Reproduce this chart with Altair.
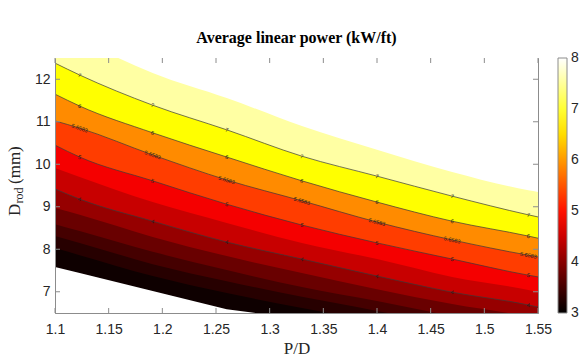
import math
import altair as alt
import pandas as pd

# ---------------- data ----------------
# P/D columns at which the contour boundaries were read
PD = [1.1, 1.123, 1.191, 1.26, 1.33, 1.40, 1.47, 1.541, 1.55]

# labelled contour lines: D_rod (mm) at each P/D column
LINE_7 = [12.38, 12.10, 11.39, 10.81, 10.19, 9.72, 9.25, 8.81, 8.76]
LINE_6 = [11.65, 11.37, 10.74, 10.17, 9.61, 9.11, 8.66, 8.31, 8.26]
LINE_56583 = [11.02, 10.85, 10.22, 9.63, 9.14, 8.64, 8.22, 7.86, 7.82]
LINE_5 = [10.45, 10.17, 9.61, 9.06, 8.57, 8.15, 7.77, 7.39, 7.35]
LINE_4 = [9.42, 9.18, 8.66, 8.17, 7.77, 7.37, 6.99, 6.69, 6.64]
LINE_LEVELS = ["7", "6", "5.6583", "5", "4"]

# unlabelled edges of the filled bands
EDGE_45 = [9.91, 9.70, 9.11, 8.62, 8.15, 7.77, 7.35, 7.04, 6.99]
EDGE_35 = [8.97, 8.81, 8.29, 7.84, 7.44, 7.06, 6.71, 6.41, 6.36]
EDGE_30 = [8.59, 8.43, 7.94, 7.51, 7.11, 6.78, 6.43, 6.12, 6.08]
EDGE_25 = [8.31, 8.15, 7.65, 7.25, 6.88, 6.55, 6.19, 5.89, 5.84]
EDGE_20 = [8.03, 7.86, 7.37, 6.97, 6.62, 6.29, 5.96, 5.65, 5.61]

# value (kW/ft) shown by each filled band, from the top band down
BAND_VALUES = [7.55, 6.75, 5.9, 5.32, 4.8, 4.47, 4.1, 3.77, 3.51, 3.29, 3.1]

# limits of the computed region (blank outside)
TOP_PD = [1.159, 1.191, 1.26, 1.33, 1.40, 1.47, 1.541, 1.55]
TOP_D = [12.5, 12.15, 11.56, 10.90, 10.34, 9.82, 9.39, 9.35]
BOT_PD = [1.1, 1.123, 1.191, 1.26, 1.287]
BOT_D = [7.58, 7.44, 7.02, 6.59, 6.5]

X_DOMAIN = [1.1, 1.55]
Y_DOMAIN = [6.5, 12.5]
X_TICKS = [1.1, 1.15, 1.2, 1.25, 1.3, 1.35, 1.4, 1.45, 1.5, 1.55]
Y_TICKS = [7, 8, 9, 10, 11, 12]
CBAR_DOMAIN = [3, 8]
CBAR_TICKS = [3, 4, 5, 6, 7, 8]
LABEL_COLUMNS = [1, 2, 3, 4, 5, 6, 7]

# ---------------- styling ----------------
W, H = 483, 255
CB_OFFSET, CB_THICK = 20, 9
AXIS = "#8c8c8c"
TXT = "#262626"
SANS = "Liberation Sans"
SERIF = "Liberation Serif"

# ---------------- tables ----------------
LINE_D = [LINE_7, LINE_6, LINE_56583, LINE_5, LINE_4]
band_tops = [[Y_DOMAIN[1]] * len(PD), LINE_7, LINE_6, LINE_56583, LINE_5,
             EDGE_45, LINE_4, EDGE_35, EDGE_30, EDGE_25, EDGE_20]

band_rows = []
for b, (val, top) in enumerate(zip(BAND_VALUES, band_tops)):
    for p, d in zip(PD, top):
        band_rows.append({"band": b, "PD": p, "D": d, "value": val})
bands = pd.DataFrame(band_rows)

line_rows = []
label_rows = []
px_x = W / (X_DOMAIN[1] - X_DOMAIN[0])
px_y = H / (Y_DOMAIN[1] - Y_DOMAIN[0])
for lev, ds in zip(LINE_LEVELS, LINE_D):
    for p, d in zip(PD, ds):
        line_rows.append({"level": lev, "PD": p, "D": d})
    for i in LABEL_COLUMNS:
        dx = (PD[i + 1] - PD[i - 1]) * px_x
        dy = -(ds[i + 1] - ds[i - 1]) * px_y
        ang = math.degrees(math.atan2(dy, dx)) % 360
        label_rows.append({"level": lev, "PD": PD[i], "D": ds[i], "angle": ang})
lines = pd.DataFrame(line_rows)
labels = pd.DataFrame(label_rows)

top_blank = pd.DataFrame({"PD": TOP_PD, "D": TOP_D})
bot_blank = pd.DataFrame({"PD": BOT_PD, "D": BOT_D})
xt = pd.DataFrame({"PD": X_TICKS})
yt = pd.DataFrame({"D": Y_TICKS})
cbt = pd.DataFrame({"kw": CBAR_TICKS})

# ---------------- encodings ----------------
x_enc = alt.X(
    "PD:Q",
    title="P/D",
    scale=alt.Scale(domain=X_DOMAIN, nice=False, zero=False),
    axis=alt.Axis(values=X_TICKS, format=".2~f", tickSize=0, labelPadding=9,
                  labelFontSize=14, labelFont=SANS, labelColor=TXT,
                  labelFlush=False, domainColor=AXIS, grid=False, zindex=1,
                  titleFont=SERIF, titleFontSize=17, titleFontWeight="normal",
                  titleColor=TXT, titlePadding=4),
)
y_enc = alt.Y(
    "D:Q",
    title=None,
    scale=alt.Scale(domain=Y_DOMAIN, nice=False, zero=False),
    axis=alt.Axis(values=Y_TICKS, tickSize=0, labelPadding=5, labelFontSize=14,
                  labelFont=SANS, labelColor=TXT, labelFlush=False,
                  domainColor=AXIS, grid=False, zindex=1),
)
hot = alt.Scale(domain=[3, 4.875, 6.75, 8],
                range=["#000000", "#ff0000", "#ffff00", "#ffffff"],
                interpolate="rgb", clamp=True)
color_enc = alt.Color(
    "value:Q", scale=hot,
    legend=alt.Legend(values=CBAR_TICKS, title=None, orient="right",
                      offset=CB_OFFSET, gradientLength=H,
                      gradientThickness=CB_THICK, gradientStrokeColor=AXIS,
                      gradientStrokeWidth=1, labelExpr="''", padding=0),
)

layers = []
for b in range(len(BAND_VALUES)):
    layers.append(
        alt.Chart(bands).transform_filter(alt.datum.band == b)
        .mark_area(clip=True, interpolate="monotone")
        .encode(x=x_enc, y=y_enc, y2=alt.Y2Datum(Y_DOMAIN[0]), color=color_enc)
    )

layers.append(
    alt.Chart(top_blank).mark_area(clip=True, color="white", interpolate="monotone")
    .encode(x=x_enc, y=y_enc, y2=alt.Y2Datum(Y_DOMAIN[1]))
)
layers.append(
    alt.Chart(bot_blank).mark_area(clip=True, color="white")
    .encode(x=x_enc, y=y_enc, y2=alt.Y2Datum(Y_DOMAIN[0]))
)
layers.append(
    alt.Chart(lines).mark_line(clip=True, interpolate="monotone", color="#3a3a3a",
                               strokeWidth=0.7)
    .encode(x=x_enc, y=y_enc, detail="level:N")
)
layers.append(
    alt.Chart(labels).mark_text(font=SANS, fontSize=5.5, color="#1e1e1e")
    .encode(x=x_enc, y=y_enc, text="level:N", angle=alt.Angle("angle:Q", scale=None))
)

# inward ticks on all four sides
layers.append(alt.Chart(xt).mark_rule(color=AXIS).encode(
    x=x_enc, y=alt.value(H), y2=alt.value(H - 5)))
layers.append(alt.Chart(xt).mark_rule(color=AXIS).encode(
    x=x_enc, y=alt.value(0), y2=alt.value(5)))
layers.append(alt.Chart(yt).mark_rule(color=AXIS).encode(
    y=y_enc, x=alt.value(0), x2=alt.value(5)))
layers.append(alt.Chart(yt).mark_rule(color=AXIS).encode(
    y=y_enc, x=alt.value(W), x2=alt.value(W - 5)))

# y-axis title with subscript: D_rod (mm)
ytitle_parts = pd.DataFrame({"t": ["D"]})
layers.append(alt.Chart(ytitle_parts).mark_text(
    angle=270, align="left", baseline="alphabetic", font=SERIF, fontSize=17,
    color=TXT).encode(x=alt.value(-35), y=alt.value(158), text=alt.value("D")))
layers.append(alt.Chart(ytitle_parts).mark_text(
    angle=270, align="left", baseline="alphabetic", font=SERIF, fontSize=12,
    color=TXT, dx=12.5, dy=3).encode(x=alt.value(-35), y=alt.value(158),
                                     text=alt.value("rod")))
layers.append(alt.Chart(ytitle_parts).mark_text(
    angle=270, align="left", baseline="alphabetic", font=SERIF, fontSize=17,
    color=TXT, dx=32).encode(x=alt.value(-35), y=alt.value(158),
                             text=alt.value("(mm)")))

main = alt.layer(*layers)

# colour-bar tick labels and small ticks, on their own 3..8 scale
cb_y = alt.Y("kw:Q", scale=alt.Scale(domain=CBAR_DOMAIN, nice=False, zero=False),
             axis=None)
cb_labels = alt.Chart(cbt).mark_text(
    align="left", baseline="middle", font=SANS, fontSize=14, color=TXT
).encode(y=cb_y, x=alt.value(W + CB_OFFSET + CB_THICK + 4), text="kw:N")
cb_ticks = alt.Chart(cbt).transform_filter(
    (alt.datum.kw > CBAR_DOMAIN[0]) & (alt.datum.kw < CBAR_DOMAIN[1])
).mark_rule(color=AXIS).encode(
    y=cb_y, x=alt.value(W + CB_OFFSET + CB_THICK - 2),
    x2=alt.value(W + CB_OFFSET + CB_THICK))

chart = alt.layer(main, cb_labels, cb_ticks).resolve_scale(y="independent").properties(
    width=W, height=H,
    title=alt.TitleParams("Average linear power (kW/ft)", font=SERIF, fontSize=16,
                          fontWeight="bold", color="#000000", anchor="middle",
                          offset=5),
    padding={"left": 55, "top": 58, "right": 46, "bottom": 47},
    autosize=alt.AutoSizeParams(type="none"),
).configure_view(stroke=AXIS, strokeWidth=1)

chart.save("out.html", embed_options={"renderer": "svg", "actions": False})
